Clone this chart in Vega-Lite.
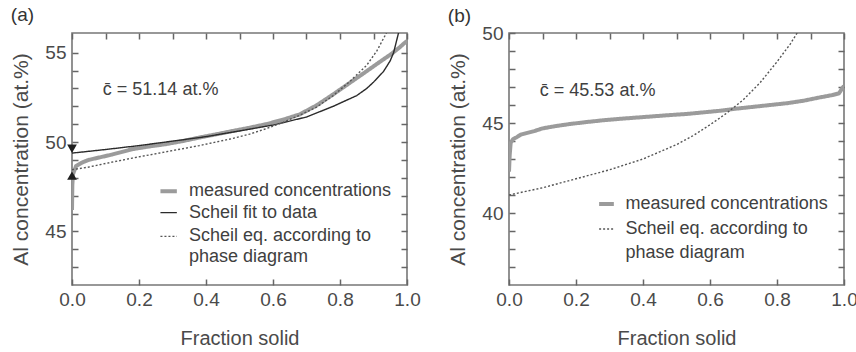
{
  "$schema": "https://vega.github.io/schema/vega-lite/v6.json",
  "padding": {"left": 10, "top": 5, "right": 0, "bottom": 0},
  "background": "white",
  "config": {
    "font": "Liberation Sans",
    "view": {"stroke": "#777777", "strokeWidth": 1.6},
    "axis": {
      "grid": false,
      "domain": false,
      "tickSize": -6,
      "tickColor": "#666666",
      "tickWidth": 1.5,
      "labelFontSize": 19,
      "labelColor": "#4a4a4a",
      "labelFlush": false,
      "labelOverlap": false,
      "titleFontSize": 20,
      "titleFontWeight": "normal",
      "titleColor": "#4a4a4a"
    },
    "title": {"fontSize": 19, "fontWeight": "normal", "color": "#333333", "anchor": "start", "frame": "bounds"},
    "concat": {"spacing": 25}
  },
  "datasets": {
    "curvesA": [
      {"series": "measured", "f": 0, "c": 46.2},
      {"series": "measured", "f": 0.001, "c": 47.6},
      {"series": "measured", "f": 0.003, "c": 48.2},
      {"series": "measured", "f": 0.008, "c": 48.45},
      {"series": "measured", "f": 0.012, "c": 48.65},
      {"series": "measured", "f": 0.03, "c": 48.85},
      {"series": "measured", "f": 0.05, "c": 49.0},
      {"series": "measured", "f": 0.08, "c": 49.13},
      {"series": "measured", "f": 0.12, "c": 49.3},
      {"series": "measured", "f": 0.18, "c": 49.6},
      {"series": "measured", "f": 0.23, "c": 49.75},
      {"series": "measured", "f": 0.28, "c": 49.88},
      {"series": "measured", "f": 0.33, "c": 50.05},
      {"series": "measured", "f": 0.38, "c": 50.25},
      {"series": "measured", "f": 0.43, "c": 50.43},
      {"series": "measured", "f": 0.48, "c": 50.62},
      {"series": "measured", "f": 0.53, "c": 50.8},
      {"series": "measured", "f": 0.58, "c": 51.0},
      {"series": "measured", "f": 0.63, "c": 51.25},
      {"series": "measured", "f": 0.68, "c": 51.55},
      {"series": "measured", "f": 0.73, "c": 52.05},
      {"series": "measured", "f": 0.78, "c": 52.67},
      {"series": "measured", "f": 0.83, "c": 53.32},
      {"series": "measured", "f": 0.88, "c": 53.97},
      {"series": "measured", "f": 0.93, "c": 54.63},
      {"series": "measured", "f": 0.955, "c": 54.95},
      {"series": "measured", "f": 0.977, "c": 55.28},
      {"series": "measured", "f": 0.99, "c": 55.5},
      {"series": "measured", "f": 1.0, "c": 55.65},
      {"series": "fit", "f": 0, "c": 49.38},
      {"series": "fit", "f": 0.05, "c": 49.48},
      {"series": "fit", "f": 0.1, "c": 49.58},
      {"series": "fit", "f": 0.2, "c": 49.8},
      {"series": "fit", "f": 0.3, "c": 50.05},
      {"series": "fit", "f": 0.4, "c": 50.3},
      {"series": "fit", "f": 0.5, "c": 50.62},
      {"series": "fit", "f": 0.6, "c": 50.95},
      {"series": "fit", "f": 0.7, "c": 51.4},
      {"series": "fit", "f": 0.78, "c": 52.0},
      {"series": "fit", "f": 0.85, "c": 52.6},
      {"series": "fit", "f": 0.88, "c": 53.0},
      {"series": "fit", "f": 0.9, "c": 53.35},
      {"series": "fit", "f": 0.93, "c": 53.95},
      {"series": "fit", "f": 0.95, "c": 54.55},
      {"series": "fit", "f": 0.96, "c": 55.0},
      {"series": "fit", "f": 0.968, "c": 55.6},
      {"series": "fit", "f": 0.976, "c": 56.2},
      {"series": "eq", "f": 0, "c": 48.45},
      {"series": "eq", "f": 0.05, "c": 48.6},
      {"series": "eq", "f": 0.1, "c": 48.8},
      {"series": "eq", "f": 0.18, "c": 49.1},
      {"series": "eq", "f": 0.28, "c": 49.45},
      {"series": "eq", "f": 0.38, "c": 49.8},
      {"series": "eq", "f": 0.48, "c": 50.2},
      {"series": "eq", "f": 0.53, "c": 50.44},
      {"series": "eq", "f": 0.58, "c": 50.75},
      {"series": "eq", "f": 0.63, "c": 51.1},
      {"series": "eq", "f": 0.68, "c": 51.5},
      {"series": "eq", "f": 0.73, "c": 51.95},
      {"series": "eq", "f": 0.78, "c": 52.6},
      {"series": "eq", "f": 0.83, "c": 53.4},
      {"series": "eq", "f": 0.88, "c": 54.3},
      {"series": "eq", "f": 0.91, "c": 55.1},
      {"series": "eq", "f": 0.94, "c": 56.15}
    ],
    "legendA": [
      {"series": "measured", "f": 0.264, "f2": 0.313, "c": 47.25},
      {"series": "fit", "f": 0.264, "f2": 0.313, "c": 46.05},
      {"series": "eq", "f": 0.264, "f2": 0.313, "c": 44.72}
    ],
    "labelsA": [
      {"label": "measured concentrations", "f": 0.349, "c": 47.25},
      {"label": "Scheil fit to data", "f": 0.349, "c": 46.05},
      {"label": "Scheil eq. according to", "f": 0.349, "c": 44.72},
      {"label": "phase diagram", "f": 0.349, "c": 43.55},
      {"label": "c̄ = 51.14 at.%", "f": 0.092, "c": 52.9}
    ],
    "arrowsA": [
      {"dir": "down", "f": 0, "c": 49.62},
      {"dir": "up", "f": 0, "c": 48.12}
    ],
    "curvesB": [
      {"series": "measured", "f": 0, "c": 42.3},
      {"series": "measured", "f": 0.002, "c": 43.2},
      {"series": "measured", "f": 0.005, "c": 43.9},
      {"series": "measured", "f": 0.012, "c": 44.1},
      {"series": "measured", "f": 0.022, "c": 44.2},
      {"series": "measured", "f": 0.035, "c": 44.35},
      {"series": "measured", "f": 0.052, "c": 44.44},
      {"series": "measured", "f": 0.075, "c": 44.55},
      {"series": "measured", "f": 0.1, "c": 44.7},
      {"series": "measured", "f": 0.14, "c": 44.83},
      {"series": "measured", "f": 0.18, "c": 44.94},
      {"series": "measured", "f": 0.23, "c": 45.05},
      {"series": "measured", "f": 0.28, "c": 45.15},
      {"series": "measured", "f": 0.33, "c": 45.23},
      {"series": "measured", "f": 0.38, "c": 45.3},
      {"series": "measured", "f": 0.43, "c": 45.37},
      {"series": "measured", "f": 0.48, "c": 45.44},
      {"series": "measured", "f": 0.53, "c": 45.5},
      {"series": "measured", "f": 0.58, "c": 45.59},
      {"series": "measured", "f": 0.63, "c": 45.68},
      {"series": "measured", "f": 0.68, "c": 45.8},
      {"series": "measured", "f": 0.73, "c": 45.9},
      {"series": "measured", "f": 0.78, "c": 46.0},
      {"series": "measured", "f": 0.83, "c": 46.1},
      {"series": "measured", "f": 0.88, "c": 46.24},
      {"series": "measured", "f": 0.93, "c": 46.43},
      {"series": "measured", "f": 0.965, "c": 46.55},
      {"series": "measured", "f": 0.985, "c": 46.65},
      {"series": "measured", "f": 1.0, "c": 47.07},
      {"series": "eq", "f": 0, "c": 41.0},
      {"series": "eq", "f": 0.05, "c": 41.2},
      {"series": "eq", "f": 0.1, "c": 41.4},
      {"series": "eq", "f": 0.15, "c": 41.65},
      {"series": "eq", "f": 0.2, "c": 41.9},
      {"series": "eq", "f": 0.25, "c": 42.15},
      {"series": "eq", "f": 0.3, "c": 42.4},
      {"series": "eq", "f": 0.35, "c": 42.7},
      {"series": "eq", "f": 0.4, "c": 43.0},
      {"series": "eq", "f": 0.45, "c": 43.4},
      {"series": "eq", "f": 0.5, "c": 43.8},
      {"series": "eq", "f": 0.55, "c": 44.3},
      {"series": "eq", "f": 0.6, "c": 44.9},
      {"series": "eq", "f": 0.65, "c": 45.55},
      {"series": "eq", "f": 0.7, "c": 46.3},
      {"series": "eq", "f": 0.75, "c": 47.25},
      {"series": "eq", "f": 0.8, "c": 48.4},
      {"series": "eq", "f": 0.84, "c": 49.4},
      {"series": "eq", "f": 0.87, "c": 50.3}
    ],
    "legendB": [
      {"series": "measured", "f": 0.269, "f2": 0.313, "c": 40.5},
      {"series": "eq", "f": 0.269, "f2": 0.313, "c": 39.11}
    ],
    "labelsB": [
      {"label": "measured concentrations", "f": 0.348, "c": 40.5},
      {"label": "Scheil eq. according to", "f": 0.348, "c": 39.11},
      {"label": "phase diagram", "f": 0.348, "c": 37.78},
      {"label": "c̄ = 45.53 at.%", "f": 0.092, "c": 46.8}
    ]
  },
  "hconcat": [
    {
      "title": {"text": "(a)", "offset": 7},
      "width": 335,
      "height": 252,
      "layer": [
        {
          "layer": [
            {
              "data": {"name": "curvesA"},
              "mark": {"type": "line", "clip": true},
              "encoding": {
                "x": {
                  "field": "f", "type": "quantitative",
                  "scale": {"domain": [0, 1], "nice": false},
                  "axis": {
                    "orient": "bottom", "title": "Fraction solid",
                    "values": [0, 0.1, 0.2, 0.3, 0.4, 0.5, 0.6, 0.7, 0.8, 0.9, 1.0],
                    "labelExpr": "round(datum.value * 10) % 2 ? '' : format(datum.value, '.1f')",
                    "labelOverlap": false, "labelFlush": false,
                    "labelPadding": 11, "titlePadding": 19
                  }
                },
                "y": {
                  "field": "c", "type": "quantitative",
                  "scale": {"domain": [42, 56.1], "nice": false, "zero": false},
                  "axis": {
                    "orient": "left", "title": "Al concentration (at.%)",
                    "values": [45, 50, 55],
                    "labelOverlap": false, "labelFlush": false,
                    "labelPadding": 12, "titlePadding": 13, "titleFontSize": 21
                  }
                },
                "color": {"field": "series", "type": "nominal", "scale": {"domain": ["measured", "fit", "eq"], "range": ["#9b9b9b", "#2b2b2b", "#555555"]}, "legend": null},
                "strokeDash": {"field": "series", "type": "nominal", "scale": {"domain": ["measured", "fit", "eq"], "range": [[1, 0], [1, 0], [2, 2]]}, "legend": null},
                "strokeWidth": {"condition": {"test": "datum.series == 'measured'", "value": 4}, "value": 1.4}
              }
            },
            {
              "data": {"name": "legendA"},
              "mark": {"type": "rule"},
              "encoding": {
                "x": {"field": "f", "type": "quantitative"},
                "x2": {"field": "f2"},
                "y": {"field": "c", "type": "quantitative"},
                "color": {"field": "series", "type": "nominal", "legend": null},
                "strokeDash": {"field": "series", "type": "nominal", "legend": null},
                "strokeWidth": {"condition": {"test": "datum.series == 'measured'", "value": 4}, "value": 1.4}
              }
            },
            {
              "data": {"name": "labelsA"},
              "mark": {"type": "text", "align": "left", "baseline": "middle", "fontSize": 18, "color": "#404040"},
              "encoding": {
                "x": {"field": "f", "type": "quantitative"},
                "y": {"field": "c", "type": "quantitative"},
                "text": {"field": "label"}
              }
            },
            {
              "data": {"name": "arrowsA"},
              "mark": {"type": "point", "filled": true, "size": 95, "color": "#1e1e1e", "opacity": 1},
              "encoding": {
                "x": {"field": "f", "type": "quantitative"},
                "y": {"field": "c", "type": "quantitative"},
                "shape": {"field": "dir", "type": "nominal", "scale": {"domain": ["down", "up"], "range": ["triangle-down", "triangle-up"]}, "legend": null}
              }
            }
          ]
        },
        {
          "data": {"name": "curvesA"},
          "mark": {"type": "line", "opacity": 0, "clip": true},
          "encoding": {
            "x": {
              "field": "f", "type": "quantitative",
              "scale": {"domain": [0, 1], "nice": false},
              "axis": {"orient": "top", "labels": false, "title": null, "values": [0, 0.1, 0.2, 0.3, 0.4, 0.5, 0.6, 0.7, 0.8, 0.9, 1.0]}
            },
            "y": {
              "field": "c", "type": "quantitative",
              "scale": {"domain": [42, 56.1], "nice": false, "zero": false},
              "axis": {"orient": "left", "labels": false, "title": null, "values": [43, 44, 46, 47, 48, 49, 51, 52, 53, 54]}
            }
          }
        },
        {
          "data": {"name": "curvesA"},
          "mark": {"type": "line", "opacity": 0, "clip": true},
          "encoding": {
            "x": {"field": "f", "type": "quantitative", "scale": {"domain": [0, 1], "nice": false}, "axis": null},
            "y": {
              "field": "c", "type": "quantitative",
              "scale": {"domain": [42, 56.1], "nice": false, "zero": false},
              "axis": {"orient": "right", "labels": false, "title": null, "values": [43, 44, 45, 46, 47, 48, 49, 50, 51, 52, 53, 54, 55]}
            }
          }
        }
      ],
      "resolve": {"axis": {"x": "independent", "y": "independent"}}
    },
    {
      "title": {"text": "(b)", "offset": -2},
      "width": 335,
      "height": 252,
      "layer": [
        {
          "layer": [
            {
              "data": {"name": "curvesB"},
              "mark": {"type": "line", "clip": true},
              "encoding": {
                "x": {
                  "field": "f", "type": "quantitative",
                  "scale": {"domain": [0, 1], "nice": false},
                  "axis": {
                    "orient": "bottom", "title": "Fraction solid",
                    "values": [0, 0.1, 0.2, 0.3, 0.4, 0.5, 0.6, 0.7, 0.8, 0.9, 1.0],
                    "labelExpr": "round(datum.value * 10) % 2 ? '' : format(datum.value, '.1f')",
                    "labelOverlap": false, "labelFlush": false,
                    "labelPadding": 11, "titlePadding": 19
                  }
                },
                "y": {
                  "field": "c", "type": "quantitative",
                  "scale": {"domain": [36, 50], "nice": false, "zero": false},
                  "axis": {
                    "orient": "left", "title": "Al concentration (at.%)",
                    "values": [40, 45, 50],
                    "labelOverlap": false, "labelFlush": false,
                    "labelPadding": 12, "titlePadding": 13, "titleFontSize": 21
                  }
                },
                "color": {"field": "series", "type": "nominal", "scale": {"domain": ["measured", "fit", "eq"], "range": ["#9b9b9b", "#2b2b2b", "#555555"]}, "legend": null},
                "strokeDash": {"field": "series", "type": "nominal", "scale": {"domain": ["measured", "fit", "eq"], "range": [[1, 0], [1, 0], [2, 2]]}, "legend": null},
                "strokeWidth": {"condition": {"test": "datum.series == 'measured'", "value": 4}, "value": 1.4}
              }
            },
            {
              "data": {"name": "legendB"},
              "mark": {"type": "rule"},
              "encoding": {
                "x": {"field": "f", "type": "quantitative"},
                "x2": {"field": "f2"},
                "y": {"field": "c", "type": "quantitative"},
                "color": {"field": "series", "type": "nominal", "legend": null},
                "strokeDash": {"field": "series", "type": "nominal", "legend": null},
                "strokeWidth": {"condition": {"test": "datum.series == 'measured'", "value": 4}, "value": 1.4}
              }
            },
            {
              "data": {"name": "labelsB"},
              "mark": {"type": "text", "align": "left", "baseline": "middle", "fontSize": 18, "color": "#404040"},
              "encoding": {
                "x": {"field": "f", "type": "quantitative"},
                "y": {"field": "c", "type": "quantitative"},
                "text": {"field": "label"}
              }
            }
          ]
        },
        {
          "data": {"name": "curvesB"},
          "mark": {"type": "line", "opacity": 0, "clip": true},
          "encoding": {
            "x": {
              "field": "f", "type": "quantitative",
              "scale": {"domain": [0, 1], "nice": false},
              "axis": {"orient": "top", "labels": false, "title": null, "values": [0, 0.1, 0.2, 0.3, 0.4, 0.5, 0.6, 0.7, 0.8, 0.9, 1.0]}
            },
            "y": {
              "field": "c", "type": "quantitative",
              "scale": {"domain": [36, 50], "nice": false, "zero": false},
              "axis": {"orient": "left", "labels": false, "title": null, "values": [37, 38, 39, 41, 42, 43, 44, 46, 47, 48, 49]}
            }
          }
        },
        {
          "data": {"name": "curvesB"},
          "mark": {"type": "line", "opacity": 0, "clip": true},
          "encoding": {
            "x": {"field": "f", "type": "quantitative", "scale": {"domain": [0, 1], "nice": false}, "axis": null},
            "y": {
              "field": "c", "type": "quantitative",
              "scale": {"domain": [36, 50], "nice": false, "zero": false},
              "axis": {"orient": "right", "labels": false, "title": null, "values": [37, 38, 39, 40, 41, 42, 43, 44, 45, 46, 47, 48, 49]}
            }
          }
        }
      ],
      "resolve": {"axis": {"x": "independent", "y": "independent"}}
    }
  ],
  "resolve": {"scale": {"x": "independent", "y": "independent"}}
}
